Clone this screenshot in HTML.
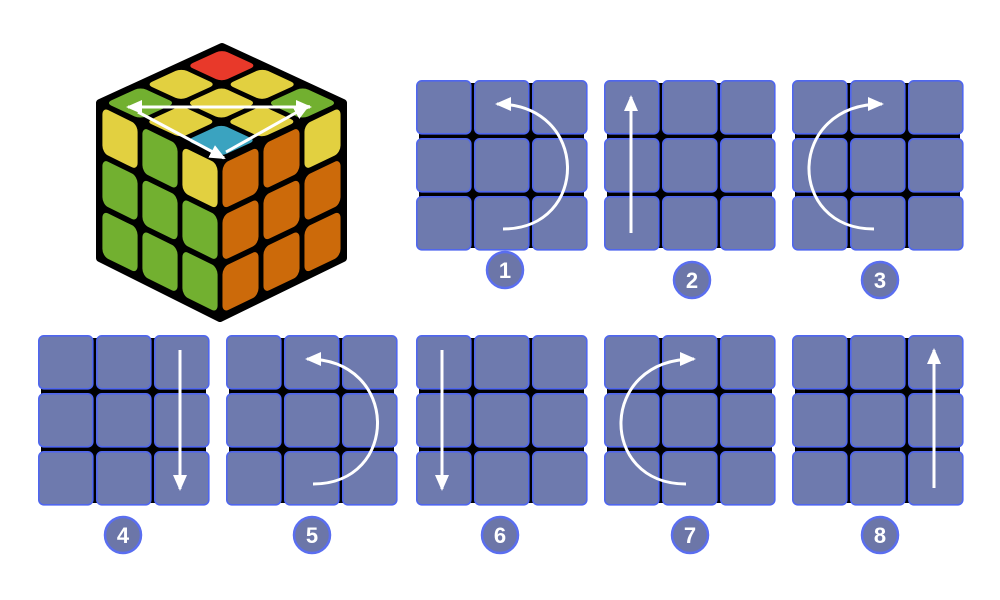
<!DOCTYPE html>
<html><head><meta charset="utf-8"><style>body{margin:0;background:#fff}svg{display:block}</style></head><body>
<svg width="1000" height="600" viewBox="0 0 1000 600" xmlns="http://www.w3.org/2000/svg">
<defs>
<marker id="ah" markerUnits="userSpaceOnUse" markerWidth="18" markerHeight="14" refX="14" refY="7" orient="auto-start-reverse"><path d="M0,0 L16,7 L0,14 Z" fill="#fff"/></marker>
<g id="grid">
<rect x="3" y="3" width="165" height="165" fill="#000"/>
<g fill="#6e7aae" stroke="#4f66ee" stroke-width="1.6">
<rect x="0.8" y="0.8" width="54" height="53" rx="5"/><rect x="58.8" y="0.8" width="54" height="53" rx="5"/><rect x="116.8" y="0.8" width="54" height="53" rx="5"/>
<rect x="0.8" y="58.8" width="54" height="53" rx="5"/><rect x="58.8" y="58.8" width="54" height="53" rx="5"/><rect x="116.8" y="58.8" width="54" height="53" rx="5"/>
<rect x="0.8" y="116.8" width="54" height="53" rx="5"/><rect x="58.8" y="116.8" width="54" height="53" rx="5"/><rect x="116.8" y="116.8" width="54" height="53" rx="5"/>
</g></g>
<g id="badge"><circle r="18" fill="#6c76a8" stroke="#5a6ef0" stroke-width="2.5"/></g>
</defs>

<!-- cube -->
<polygon points="222,47 343,103 343,258 220,318 100,258 100,103" fill="#000" stroke="#000" stroke-width="8" stroke-linejoin="round"/>
<g transform="matrix(-40.67,18.67,40.33,18.67,222,47)">
<rect x="0.07" y="0.07" width="0.86" height="0.86" rx="0.14" fill="#e8392a"/>
<rect x="1.07" y="0.07" width="0.86" height="0.86" rx="0.14" fill="#e2d040"/>
<rect x="2.07" y="0.07" width="0.86" height="0.86" rx="0.14" fill="#72b030"/>
<rect x="0.07" y="1.07" width="0.86" height="0.86" rx="0.14" fill="#e2d040"/>
<rect x="1.07" y="1.07" width="0.86" height="0.86" rx="0.14" fill="#e2d040"/>
<rect x="2.07" y="1.07" width="0.86" height="0.86" rx="0.14" fill="#e2d040"/>
<rect x="0.07" y="2.07" width="0.86" height="0.86" rx="0.14" fill="#72b030"/>
<rect x="1.07" y="2.07" width="0.86" height="0.86" rx="0.14" fill="#e2d040"/>
<rect x="2.07" y="2.07" width="0.86" height="0.86" rx="0.14" fill="#3aa3c0"/>
</g>
<g transform="matrix(40,19.67,0,51.67,100,103)">
<rect x="0.06" y="0.06" width="0.88" height="0.88" rx="0.14" fill="#e2d040"/>
<rect x="1.06" y="0.06" width="0.88" height="0.88" rx="0.14" fill="#72b030"/>
<rect x="2.06" y="0.06" width="0.88" height="0.88" rx="0.14" fill="#e2d040"/>
<rect x="0.06" y="1.06" width="0.88" height="0.88" rx="0.14" fill="#72b030"/>
<rect x="1.06" y="1.06" width="0.88" height="0.88" rx="0.14" fill="#72b030"/>
<rect x="2.06" y="1.06" width="0.88" height="0.88" rx="0.14" fill="#72b030"/>
<rect x="0.06" y="2.06" width="0.88" height="0.88" rx="0.14" fill="#72b030"/>
<rect x="1.06" y="2.06" width="0.88" height="0.88" rx="0.14" fill="#72b030"/>
<rect x="2.06" y="2.06" width="0.88" height="0.88" rx="0.14" fill="#72b030"/>
</g>
<g transform="matrix(41,-19.67,0,51.67,220,162)">
<rect x="0.06" y="0.06" width="0.88" height="0.88" rx="0.14" fill="#cc6a0a"/>
<rect x="1.06" y="0.06" width="0.88" height="0.88" rx="0.14" fill="#cc6a0a"/>
<rect x="2.06" y="0.06" width="0.88" height="0.88" rx="0.14" fill="#e2d040"/>
<rect x="0.06" y="1.06" width="0.88" height="0.88" rx="0.14" fill="#cc6a0a"/>
<rect x="1.06" y="1.06" width="0.88" height="0.88" rx="0.14" fill="#cc6a0a"/>
<rect x="2.06" y="1.06" width="0.88" height="0.88" rx="0.14" fill="#cc6a0a"/>
<rect x="0.06" y="2.06" width="0.88" height="0.88" rx="0.14" fill="#cc6a0a"/>
<rect x="1.06" y="2.06" width="0.88" height="0.88" rx="0.14" fill="#cc6a0a"/>
<rect x="2.06" y="2.06" width="0.88" height="0.88" rx="0.14" fill="#cc6a0a"/>
</g>
<g stroke="#fff" stroke-width="3" fill="none">
<line x1="128" y1="107" x2="310" y2="107" marker-start="url(#ah)" marker-end="url(#ah)"/>
<line x1="138" y1="112" x2="224" y2="158" marker-end="url(#ah)"/>
<line x1="226" y1="152" x2="308" y2="106" marker-end="url(#ah)"/>
</g>

<!-- grids -->
<use href="#grid" x="416" y="80"/><use href="#grid" x="604" y="80"/><use href="#grid" x="792" y="80"/>
<use href="#grid" x="38" y="335"/><use href="#grid" x="226" y="335"/><use href="#grid" x="416" y="335"/><use href="#grid" x="604" y="335"/><use href="#grid" x="792" y="335"/>

<g stroke="#fff" stroke-width="3" fill="none">
<path d="M503,229 C590,229 590,104 497,104" marker-end="url(#ah)"/>
<line x1="631" y1="233" x2="631" y2="97" marker-end="url(#ah)"/>
<path d="M874,229 C786,229 786,104 882,104" marker-end="url(#ah)"/>
<line x1="180" y1="350" x2="180" y2="489" marker-end="url(#ah)"/>
<path d="M313,484 C400,484 400,359 307,359" marker-end="url(#ah)"/>
<line x1="442" y1="350" x2="442" y2="489" marker-end="url(#ah)"/>
<path d="M686,484 C598,484 598,359 694,359" marker-end="url(#ah)"/>
<line x1="934" y1="488" x2="934" y2="350" marker-end="url(#ah)"/>
</g>

<!-- badges -->
<g font-family="'Liberation Sans', sans-serif" font-weight="bold" font-size="22" fill="#fff" text-anchor="middle">
<use href="#badge" x="505" y="270"/><text x="505" y="278">1</text>
<use href="#badge" x="692" y="280"/><text x="692" y="288">2</text>
<use href="#badge" x="880" y="280"/><text x="880" y="288">3</text>
<use href="#badge" x="123" y="535"/><text x="123" y="543">4</text>
<use href="#badge" x="312" y="535"/><text x="312" y="543">5</text>
<use href="#badge" x="500" y="535"/><text x="500" y="543">6</text>
<use href="#badge" x="690" y="535"/><text x="690" y="543">7</text>
<use href="#badge" x="880" y="535"/><text x="880" y="543">8</text>
</g>
</svg>
</body></html>
